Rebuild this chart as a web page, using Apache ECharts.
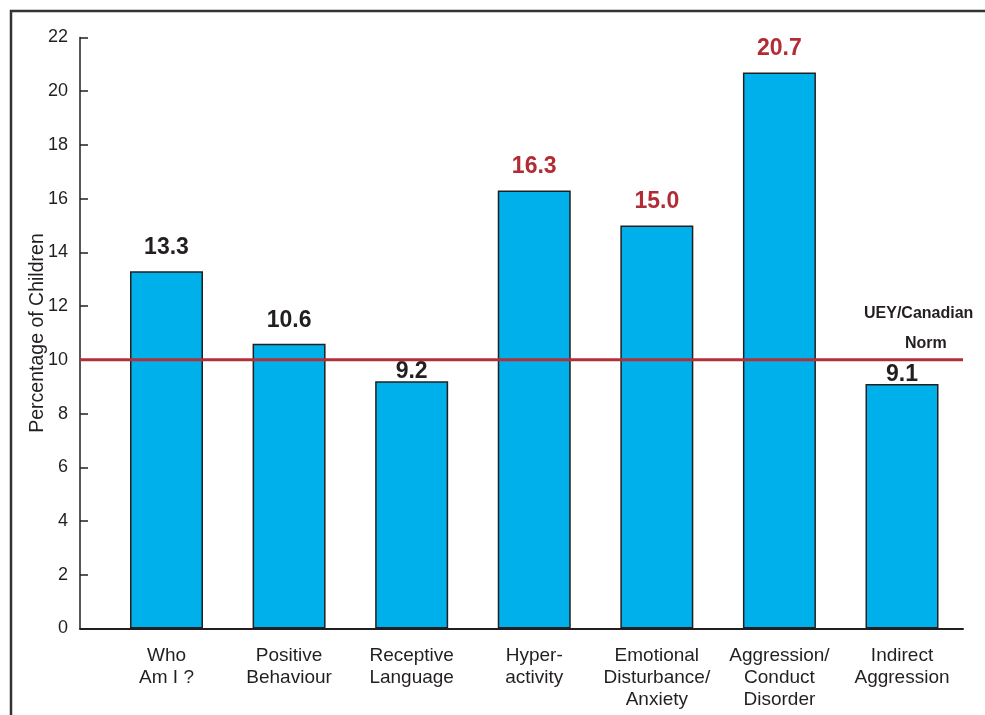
<!DOCTYPE html>
<html>
<head>
<meta charset="utf-8">
<script src="https://cdn.jsdelivr.net/npm/echarts@6/dist/echarts.min.js"></script>
<style>
html,body{margin:0;padding:0;background:#fff;}
#main{width:985px;height:715px;}
</style>
</head>
<body>
<div id="main"></div>
<script>
// ---- data ----
var categories = ['Who\nAm I ?', 'Positive\nBehaviour', 'Receptive\nLanguage', 'Hyper-\nactivity', 'Emotional\nDisturbance/\nAnxiety', 'Aggression/\nConduct\nDisorder', 'Indirect\nAggression'];
var values = [13.3, 10.6, 9.2, 16.3, 15.0, 20.7, 9.1];
var normValue = 10;
var yTicks = [0, 2, 4, 6, 8, 10, 12, 14, 16, 18, 20, 22];
var yAxisName = 'Percentage of Children';
var normLabel = ['UEY/Canadian', 'Norm'];

// ---- styles ----
var FONT = '"Liberation Sans", Arial, Helvetica, sans-serif';
var DARK = '#231f20';
var RED_TEXT = '#b22c35';
var RED_LINE = '#b0303a';
var BAR = '#00b0ea';

var barData = values.map(function (v) {
  var redText = v >= 15;
  return {
    value: v,
    label: {
      color: redText ? RED_TEXT : DARK,
      distance: (v < normValue) ? -2 : 12
    }
  };
});

var chart = echarts.init(document.getElementById('main'));
chart.setOption({
  animation: false,
  backgroundColor: '#fff',
  textStyle: { fontFamily: FONT },
  grid: [
    { left: 80, right: 22, top: 37.5, bottom: 86.5 },
    { left: 105.2, right: 21.7, top: 37.5, bottom: 86.5 }
  ],
  xAxis: [
    {
      type: 'value', gridIndex: 0, min: 0, max: 1,
      axisLine: { show: true, onZero: false, lineStyle: { color: DARK, width: 2 } },
      axisTick: { show: false }, axisLabel: { show: false }, splitLine: { show: false }
    },
    {
      type: 'category', gridIndex: 1, data: categories,
      axisLine: { show: false }, axisTick: { show: false },
      axisLabel: { interval: 0, color: DARK, fontSize: 19, lineHeight: 22, margin: 16, fontFamily: FONT }
    }
  ],
  yAxis: [
    {
      type: 'value', gridIndex: 0, min: yTicks[0], max: yTicks[yTicks.length - 1], interval: 2,
      name: yAxisName, nameLocation: 'middle', nameGap: 32, nameRotate: 90, nameMoveOverlap: false,
      nameTextStyle: { color: DARK, fontSize: 19.5, fontFamily: FONT },
      axisLine: { show: true, lineStyle: { color: DARK, width: 1.5 } },
      axisTick: { show: true, inside: true, length: 8, lineStyle: { color: DARK, width: 1.5 } },
      axisLabel: { color: DARK, fontSize: 18, margin: 12, fontFamily: FONT },
      splitLine: { show: false }
    },
    {
      type: 'value', gridIndex: 1, min: yTicks[0], max: yTicks[yTicks.length - 1], interval: 2,
      show: false, splitLine: { show: false }
    }
  ],
  series: [
    {
      type: 'bar', xAxisIndex: 1, yAxisIndex: 1,
      data: barData, barWidth: 73,
      itemStyle: { color: BAR, borderColor: DARK, borderWidth: 1.5 },
      label: {
        show: true, position: 'top', fontSize: 23, fontWeight: 'bold', fontFamily: FONT,
        formatter: function (p) { return p.value.toFixed(1); }
      },
      z: 2
    },
    {
      type: 'line', xAxisIndex: 0, yAxisIndex: 0,
      data: [[0, normValue], [1, normValue]],
      symbol: 'none', silent: true,
      lineStyle: { color: RED_LINE, width: 3 },
      z: 5
    }
  ],
  graphic: [
    {
      type: 'rect', shape: { x: 11, y: 11, width: 1100, height: 1000 },
      style: { fill: null, stroke: '#333', lineWidth: 2.5 }, silent: true
    },
    {
      type: 'text', left: 864, top: 306,
      style: { text: normLabel[0], fill: DARK, font: 'bold 16px ' + FONT }
    },
    {
      type: 'text', left: 905, top: 336,
      style: { text: normLabel[1], fill: DARK, font: 'bold 16px ' + FONT }
    }
  ]
});
</script>
</body>
</html>
